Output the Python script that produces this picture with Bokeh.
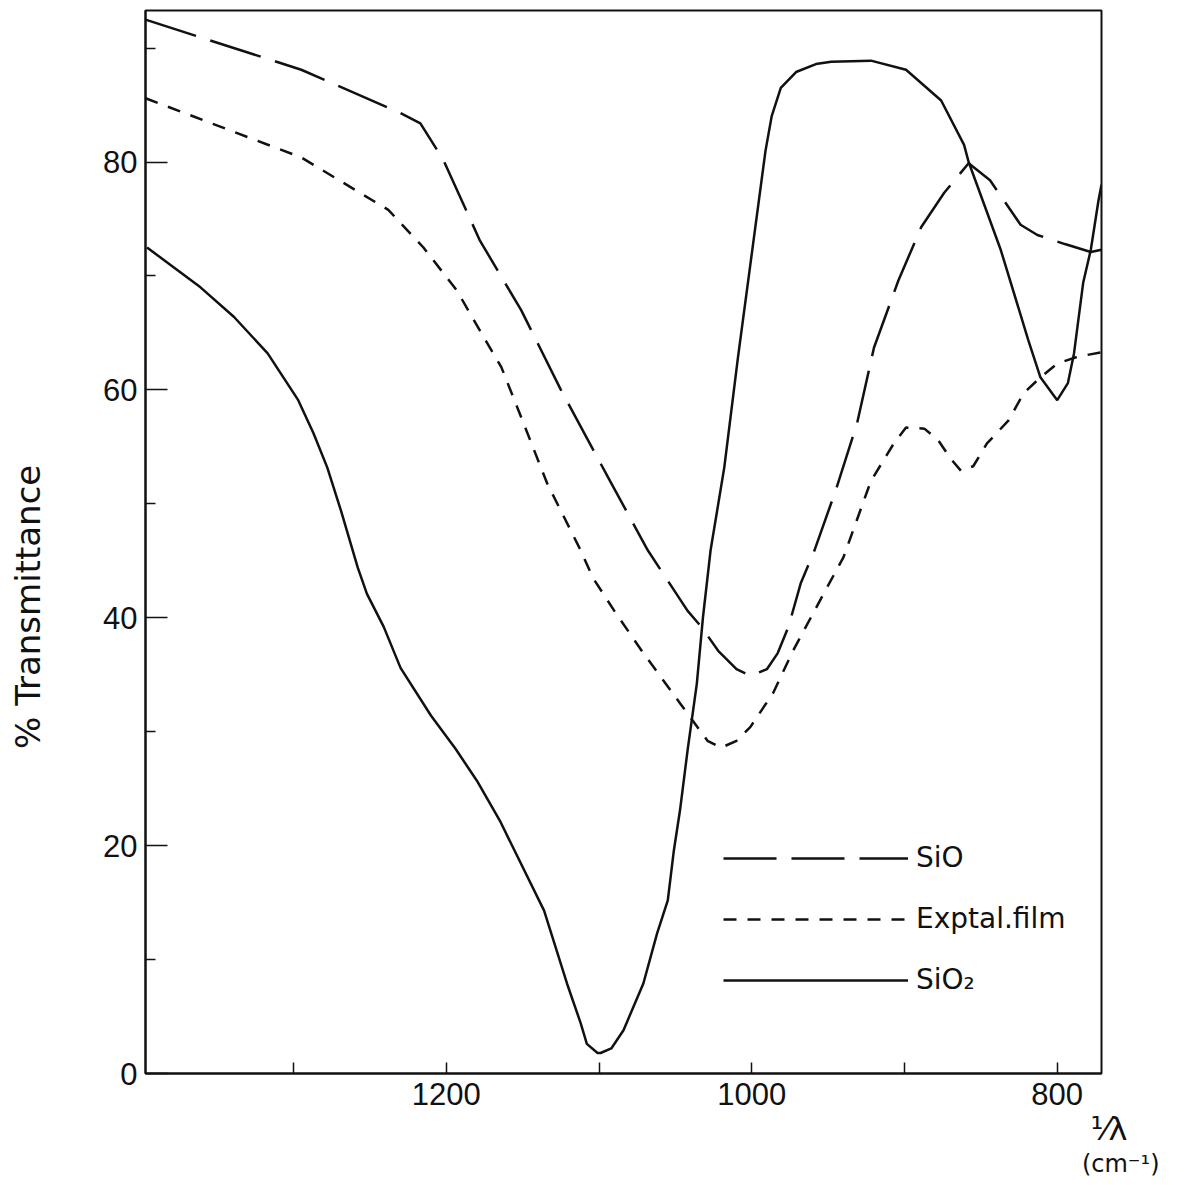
from bokeh.plotting import figure
from bokeh.models import Range1d, FixedTicker, Legend, LegendItem, Title
from bokeh.embed import file_html
from bokeh.resources import INLINE

# ---- data (wavenumber cm^-1, % transmittance) ----
sio2_wn = [1396, 1361, 1339, 1317, 1297, 1287, 1278, 1269, 1258, 1252, 1241, 1230,
           1210, 1194, 1180, 1165, 1136, 1121, 1112, 1108, 1101, 1099, 1092, 1084,
           1071, 1062, 1055, 1051, 1047, 1042, 1036, 1032, 1027, 1018, 1009, 991,
           987, 981, 971, 958, 948, 922, 899, 876, 861, 858, 837, 819, 811, 800,
           793, 789, 783, 778, 773, 771]
sio2_t = [72.5, 69.0, 66.4, 63.2, 59.1, 56.2, 53.2, 49.4, 44.4, 42.1, 39.2, 35.6,
          31.4, 28.5, 25.7, 22.2, 14.3, 7.9, 4.4, 2.6, 1.8, 1.8, 2.2, 3.8,
          7.9, 12.3, 15.2, 19.6, 23.1, 28.4, 34.2, 40.0, 45.9, 53.2, 62.9, 81.0,
          84.0, 86.5, 87.9, 88.6, 88.8, 88.9, 88.1, 85.4, 81.5, 80.0, 72.3, 64.4, 61.1, 59.1,
          60.6, 63.2, 69.4, 72.3, 76.6, 78.0]

sio_wn = [1397, 1295, 1230, 1217, 1202, 1178, 1151, 1125, 1094, 1068, 1042, 1033,
          1022, 1010, 1001, 990, 983, 976, 968, 959, 945, 931, 920, 904, 889,
          874, 858, 844, 824, 813, 795, 778, 771]
sio_t = [92.5, 88.1, 84.3, 83.4, 80.2, 73.1, 67.0, 60.0, 52.3, 45.9, 40.6, 39.2,
         37.1, 35.5, 34.9, 35.5, 36.9, 39.2, 43.0, 45.9, 51.2, 57.1, 63.7, 69.6, 74.3,
         77.3, 79.9, 78.4, 74.5, 73.6, 72.8, 72.1, 72.3]

film_wn = [1397, 1295, 1238, 1215, 1193, 1178, 1164, 1151, 1134, 1112, 1104, 1090,
           1071, 1047, 1029, 1020, 1010, 1001, 986, 973, 953, 940, 922, 907, 899,
           887, 878, 870, 863, 855, 846, 832, 822, 811, 800, 787, 771]
film_t = [85.6, 80.4, 75.8, 72.5, 68.7, 65.2, 62.0, 57.6, 51.8, 45.9, 43.5, 40.6,
          36.9, 32.5, 29.2, 28.6, 29.2, 30.4, 33.4, 37.1, 42.1, 45.3, 52.0, 55.3, 56.7,
          56.6, 55.6, 54.0, 52.9, 53.3, 55.3, 57.3, 59.7, 61.1, 62.3, 62.9, 63.3]

x_major = [1200, 1000, 800]
x_minor = [1300, 1100, 900]
y_major = [0, 20, 40, 60, 80]
y_minor = [10, 30, 50, 70, 90]

series_names = ["SiO", "Exptal.film", "SiO\u2082"]

INK = "#111111"
FONT = "DejaVu Sans"

p = figure(width=1193, height=1185, x_range=Range1d(1397, 771), y_range=Range1d(0, 93.3),
           output_backend="svg", toolbar_location=None,
           min_border_left=145, min_border_right=92, min_border_top=10, min_border_bottom=112)
p.background_fill_color = "white"
p.border_fill_color = "white"
p.outline_line_color = INK
p.outline_line_width = 2
p.grid.visible = False

for ax in (p.xaxis[0], p.yaxis[0]):
    ax.axis_line_color = INK
    ax.axis_line_width = 2
    ax.major_tick_line_color = INK
    ax.minor_tick_line_color = INK
    ax.major_tick_line_width = 1.5
    ax.minor_tick_line_width = 1.5
    ax.major_tick_out = 0
    ax.minor_tick_out = 0
    ax.major_label_text_font = "Liberation Sans"
    ax.major_label_text_font_size = "31px"
    ax.major_label_text_color = INK

p.xaxis.ticker = FixedTicker(ticks=x_major, minor_ticks=x_minor)
p.xaxis.major_tick_in = 11
p.xaxis.minor_tick_in = 11
p.xaxis.major_label_standoff = 9
p.yaxis.ticker = FixedTicker(ticks=y_major, minor_ticks=y_minor)
p.yaxis.major_tick_in = 22
p.yaxis.minor_tick_in = 10
p.yaxis.major_label_standoff = 8

# y-axis title (trailing no-break spaces move the visible words down the axis)
p.yaxis.axis_label = "% Transmittance" + "\u00a0" * 12
p.yaxis.axis_label_standoff = 52
p.yaxis.axis_label_text_font = FONT
p.yaxis.axis_label_text_font_size = "34px"
p.yaxis.axis_label_text_font_style = "normal"
p.yaxis.axis_label_text_color = INK

r_sio = p.line(sio_wn, sio_t, line_color=INK, line_width=2.5, line_dash="53 15")
r_film = p.line(film_wn, film_t, line_color=INK, line_width=2.5, line_dash="13 11")
r_sio2 = p.line(sio2_wn, sio2_t, line_color=INK, line_width=2.5)

legend = Legend(items=[LegendItem(label=series_names[0], renderers=[r_sio]),
                       LegendItem(label=series_names[1], renderers=[r_film]),
                       LegendItem(label=series_names[2], renderers=[r_sio2])],
                location=(578, 77), glyph_width=185, glyph_height=30, label_height=30,
                label_standoff=8, spacing=28, padding=0, margin=0,
                border_line_color=None, background_fill_alpha=0,
                label_text_font=FONT, label_text_font_size="28px", label_text_color=INK)
p.add_layout(legend, "center")

# x-axis unit, at the right end below the axis
p.add_layout(Title(text="\u00b9\u2044\u03bb", align="right", offset=-26, standoff=0,
                   text_font=FONT, text_font_size="32px", text_font_style="normal",
                   text_color=INK), "below")
p.add_layout(Title(text="(cm\u207b\u00b9)", align="right", offset=-58, standoff=0,
                   text_font=FONT, text_font_size="24px", text_font_style="normal",
                   text_color=INK), "below")

open("out.html", "w").write(file_html(p, INLINE))
